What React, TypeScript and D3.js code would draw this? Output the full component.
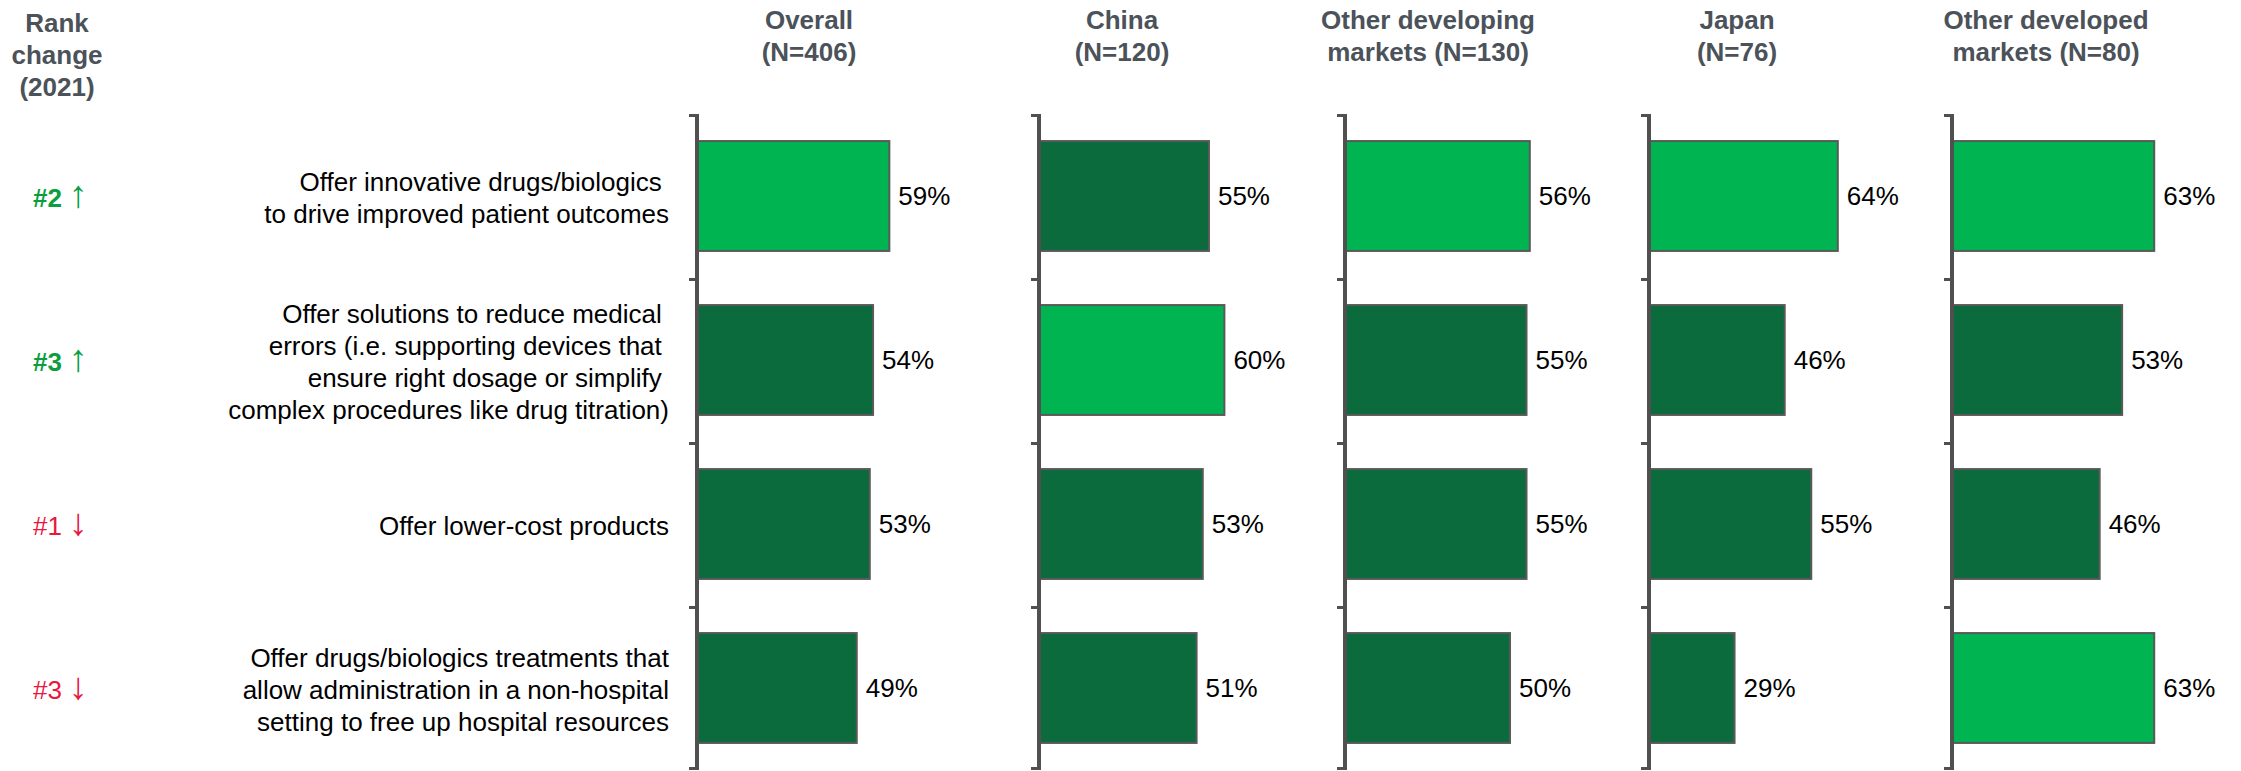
import React from "react";
import * as d3 from "d3";

// ---------- data ----------
const categories: string[][] = [
  ["Offer innovative drugs/biologics ", "to drive improved patient outcomes"],
  [
    "Offer solutions to reduce medical ",
    "errors (i.e. supporting devices that ",
    "ensure right dosage or simplify ",
    "complex procedures like drug titration)",
  ],
  ["Offer lower-cost products"],
  [
    "Offer drugs/biologics treatments that",
    "allow administration in a non-hospital",
    "setting to free up hospital resources",
  ],
];
const rankLabels = ["#2", "#3", "#1", "#3"];
const rankDirections = ["up", "up", "down", "down"];
const rankHeader = ["Rank", "change", "(2021)"];

const marketHeaders: string[][] = [
  ["Overall", "(N=406)"],
  ["China", "(N=120)"],
  ["Other developing", "markets (N=130)"],
  ["Japan", "(N=76)"],
  ["Other developed", "markets (N=80)"],
];
const overallValues = [59, 54, 53, 49];
const chinaValues = [55, 60, 53, 51];
const otherDevelopingValues = [56, 55, 55, 50];
const japanValues = [64, 46, 55, 29];
const otherDevelopedValues = [63, 53, 46, 63];
const marketValues = [overallValues, chinaValues, otherDevelopingValues, japanValues, otherDevelopedValues];

// ---------- layout ----------
const W = 2241;
const H = 771;
const FONT = "'Liberation Sans', Arial, sans-serif";
const axisX = [697, 1039, 1345, 1649, 1952];
const fullWidth = [326, 309, 330, 295, 321];
const headerX = [809, 1122, 1428, 1737, 2046];
const top = 114;
const bottom = 770;
const light = "#00B451";
const dark = "#0B6B3D";
const axisColor = "#505050";
const headColor = "#4B5259";
const upColor = "#0A9E3F";
const downColor = "#E8173F";

export default function App() {
  const idx = categories.map((_, i) => String(i));
  const y = d3.scaleBand<string>().domain(idx).range([top, bottom]).paddingInner(0.33).paddingOuter(0.165);
  const step = y.step();
  const bw = y.bandwidth();
  const lineH = 32;

  return (
    <svg
      width={W}
      height={H}
      style={{ position: "absolute", left: 0, top: 0, background: "#fff" }}
      fontFamily={FONT}
    >
      {/* rank header */}
      {rankHeader.map((t, i) => (
        <text key={"rh" + i} x={57} y={23 + i * 32} dy="0.35em" textAnchor="middle" fontSize={26} fontWeight="bold" fill={headColor}>
          {t}
        </text>
      ))}
      {/* market headers */}
      {marketHeaders.map((lines, m) =>
        lines.map((t, i) => (
          <text key={"mh" + m + i} x={headerX[m]} y={20 + i * 32} dy="0.35em" textAnchor="middle" fontSize={26} fontWeight="bold" fill={headColor}>
            {t}
          </text>
        ))
      )}
      {/* rank labels & category labels */}
      {categories.map((lines, r) => {
        const cy = (y(String(r)) as number) + bw / 2;
        const up = rankDirections[r] === "up";
        return (
          <g key={"row" + r}>
            <text x={33} y={cy + 2} dy="0.35em" fontSize={26} fill={up ? upColor : downColor}>
              <tspan fontWeight={up ? "bold" : "normal"}>{rankLabels[r]}</tspan>
              <tspan fontSize={38} fontWeight="normal" dx={-4}>{up ? " \u2191" : " \u2193"}</tspan>
            </text>
            {lines.map((t, i) => (
              <text
                key={i}
                x={669}
                y={cy + 1.5 + (i - (lines.length - 1) / 2) * lineH}
                dy="0.35em"
                textAnchor="end"
                fontSize={26}
                fill="#000"
                style={{ whiteSpace: "pre" }}
              >
                {t}
              </text>
            ))}
          </g>
        );
      })}
      {/* panels */}
      {marketValues.map((vals, m) => {
        const x = d3.scaleLinear().domain([0, 100]).range([axisX[m], axisX[m] + fullWidth[m]]);
        const maxV = d3.max(vals) as number;
        return (
          <g key={"p" + m}>
            {vals.map((v, r) => {
              const y0 = y(String(r)) as number;
              return (
                <g key={r}>
                  <rect
                    x={x(0)}
                    y={y0}
                    width={x(v) - x(0)}
                    height={bw}
                    fill={v === maxV ? light : dark}
                    stroke="#595959"
                    strokeWidth={2}
                  />
                  <text x={x(v) + 9} y={y0 + bw / 2} dy="0.35em" fontSize={26} fill="#000">
                    {d3.format(".0f")(v) + "%"}
                  </text>
                </g>
              );
            })}
            <line x1={x(0)} x2={x(0)} y1={top} y2={bottom} stroke={axisColor} strokeWidth={4} />
            {d3.range(categories.length + 1).map((i) => (
              <line
                key={"t" + i}
                x1={x(0) - 8}
                x2={x(0)}
                y1={top + 1.5 + i * step - (i === categories.length ? 3 : 0)}
                y2={top + 1.5 + i * step - (i === categories.length ? 3 : 0)}
                stroke={axisColor}
                strokeWidth={3}
              />
            ))}
          </g>
        );
      })}
    </svg>
  );
}
